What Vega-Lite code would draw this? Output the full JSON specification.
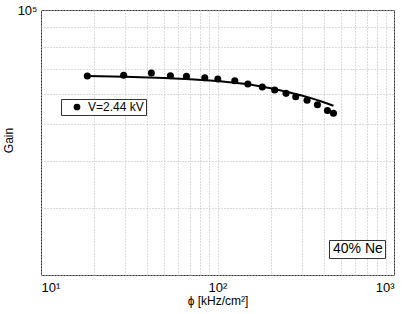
{
  "$schema": "https://vega.github.io/schema/vega-lite/v6.json",
  "width": 353,
  "height": 265,
  "autosize": {"type": "none"},
  "padding": {"left": 41, "top": 10, "right": 15, "bottom": 39},
  "background": "white",
  "config": {
    "font": "Liberation Sans",
    "view": {"stroke": "#333", "strokeWidth": 1},
    "axis": {
      "grid": true,
      "gridColor": "#bbb",
      "gridDash": [1, 2],
      "gridWidth": 1,
      "ticks": false,
      "domain": false,
      "labelFontSize": 13,
      "labelColor": "black",
      "titleFontSize": 12,
      "titleFontWeight": "normal",
      "titleColor": "black"
    }
  },
  "layer": [
    {
      "data": {"values": [
        {"phi": 18.3, "gain": 66980},
        {"phi": 30, "gain": 66700},
        {"phi": 50, "gain": 66200},
        {"phi": 70, "gain": 65700},
        {"phi": 100, "gain": 65000},
        {"phi": 150, "gain": 63700},
        {"phi": 200, "gain": 62200},
        {"phi": 250, "gain": 60800},
        {"phi": 300, "gain": 59500},
        {"phi": 350, "gain": 58300},
        {"phi": 400, "gain": 57100},
        {"phi": 454, "gain": 55900}
      ]},
      "mark": {"type": "line", "color": "black", "strokeWidth": 2, "clip": true},
      "encoding": {
        "x": {
          "field": "phi", "type": "quantitative",
          "scale": {"type": "log", "domain": [10, 1000], "nice": false},
          "axis": {
            "title": "ϕ [kHz/cm²]",
            "values": [10, 20, 30, 40, 50, 60, 70, 80, 90, 100, 200, 300, 400, 500, 600, 700, 800, 900, 1000],
            "labelExpr": "datum.value == 10 ? '10¹' : datum.value == 100 ? '10²' : datum.value == 1000 ? '10³' : ''",
            "labelPadding": 6,
            "titlePadding": 1
          }
        },
        "y": {
          "field": "gain", "type": "quantitative",
          "scale": {"type": "log", "domain": [20000, 100000], "nice": false},
          "axis": {
            "title": "Gain",
            "values": [20000, 30000, 40000, 50000, 60000, 70000, 80000, 90000, 100000],
            "labelExpr": "datum.value == 100000 ? '10⁵' : ''",
            "labelPadding": 4,
            "titleX": -26,
            "titleY": 130
          }
        }
      }
    },
    {
      "data": {"values": [
        {"phi": 18.3, "gain": 66980, "series": "V=2.44 kV"},
        {"phi": 29.4, "gain": 67260, "series": "V=2.44 kV"},
        {"phi": 42.2, "gain": 68210, "series": "V=2.44 kV"},
        {"phi": 54.1, "gain": 67100, "series": "V=2.44 kV"},
        {"phi": 66.7, "gain": 66860, "series": "V=2.44 kV"},
        {"phi": 84.7, "gain": 66290, "series": "V=2.44 kV"},
        {"phi": 100.4, "gain": 65770, "series": "V=2.44 kV"},
        {"phi": 125.3, "gain": 65090, "series": "V=2.44 kV"},
        {"phi": 148.6, "gain": 63770, "series": "V=2.44 kV"},
        {"phi": 179.4, "gain": 62660, "series": "V=2.44 kV"},
        {"phi": 210.9, "gain": 61500, "series": "V=2.44 kV"},
        {"phi": 244.5, "gain": 60270, "series": "V=2.44 kV"},
        {"phi": 277.5, "gain": 59040, "series": "V=2.44 kV"},
        {"phi": 321.6, "gain": 57800, "series": "V=2.44 kV"},
        {"phi": 368.3, "gain": 56240, "series": "V=2.44 kV"},
        {"phi": 419.6, "gain": 54340, "series": "V=2.44 kV"},
        {"phi": 454, "gain": 53390, "series": "V=2.44 kV"}
      ]},
      "mark": {"type": "point", "filled": true, "opacity": 1, "size": 50, "shape": "circle"},
      "encoding": {
        "x": {"field": "phi", "type": "quantitative"},
        "y": {"field": "gain", "type": "quantitative"},
        "color": {
          "field": "series", "type": "nominal",
          "scale": {"range": ["black"]},
          "legend": {
            "title": null,
            "orient": "none",
            "legendX": 20,
            "legendY": 89,
            "strokeColor": "#333",
            "fillColor": "white",
            "padding": 2,
            "symbolType": "circle",
            "symbolSize": 45,
            "symbolOffset": 8,
            "labelFontSize": 12,
            "labelOffset": 5,
            "labelColor": "black"
          }
        }
      }
    },
    {
      "data": {"values": [{"note": "40% Ne"}]},
      "mark": {"type": "point", "opacity": 0},
      "encoding": {
        "shape": {
          "field": "note", "type": "nominal",
          "legend": {
            "title": null,
            "orient": "none",
            "legendX": 288,
            "legendY": 230,
            "strokeColor": "#333",
            "fillColor": "white",
            "padding": 2,
            "symbolSize": 0,
            "symbolStrokeWidth": 0,
            "labelOffset": -12,
            "labelFontSize": 14,
            "labelColor": "black"
          }
        }
      }
    }
  ]
}
